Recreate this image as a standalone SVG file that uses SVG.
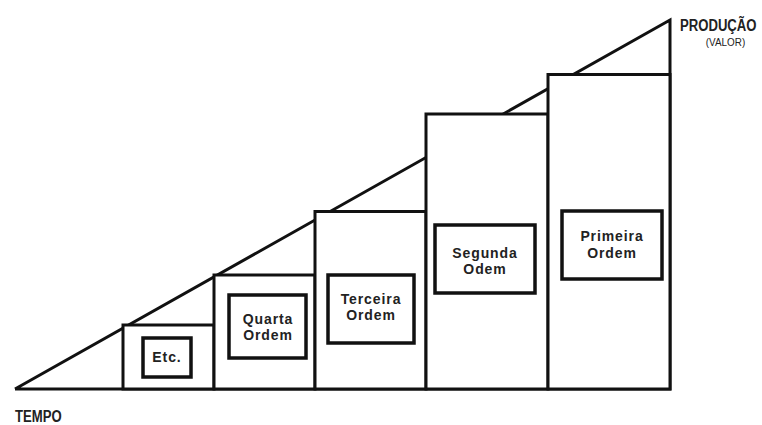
<svg xmlns="http://www.w3.org/2000/svg" width="762" height="425" viewBox="0 0 762 425">
<style>
.ln{fill:none;stroke:#111;stroke-width:3;stroke-linejoin:miter}
.st{fill:#fff;stroke:#111;stroke-width:3}
.bx{fill:#fff;stroke:#111;stroke-width:3.5}
.t{font-family:"Liberation Sans",Arial,sans-serif;font-weight:bold;font-size:14px;fill:#222;text-anchor:middle;letter-spacing:0.9px}
.ax{font-family:"Liberation Sans",Arial,sans-serif;font-weight:bold;fill:#222}
</style>
<rect width="762" height="425" fill="#fff"/>
<g id="connectors">
<polyline class="ln" points="15,389 670,20 670,389 15,389"/>
</g>
<g id="etc">
<rect class="st" x="123" y="325" width="91" height="64"/>
<rect class="bx" x="143" y="338" width="48" height="39"/>
<text class="t" x="167" y="362">Etc.</text>
</g>
<g id="quarta">
<rect class="st" x="214" y="275" width="101" height="114"/>
<rect class="bx" x="229" y="295" width="77" height="63"/>
<text class="t" x="268" y="324">Quarta</text>
<text class="t" x="268" y="340">Ordem</text>
</g>
<g id="terceira">
<rect class="st" x="315" y="211.5" width="111" height="177.5"/>
<rect class="bx" x="328" y="275" width="86" height="68"/>
<text class="t" x="371" y="304">Terceira</text>
<text class="t" x="371" y="320">Ordem</text>
</g>
<g id="segunda">
<rect class="st" x="426" y="114" width="122" height="275"/>
<rect class="bx" x="435" y="225" width="100" height="68"/>
<text class="t" x="485" y="258">Segunda</text>
<text class="t" x="485" y="274">Odem</text>
</g>
<g id="primeira">
<rect class="st" x="548" y="74.5" width="122" height="314.5"/>
<rect class="bx" x="562" y="211" width="100" height="68"/>
<text class="t" x="612" y="241">Primeira</text>
<text class="t" x="612" y="258">Ordem</text>
</g>
<g id="producao">
<text class="ax" transform="translate(680,31) scale(0.82,1)" x="0" y="0" font-size="16">PRODUÇÃO</text>
<text transform="translate(725.5,46) scale(0.9,1)" x="0" y="0" font-family="Liberation Sans,Arial,sans-serif" font-size="11" fill="#222" text-anchor="middle">(VALOR)</text>
</g>
<g id="tempo">
<text class="ax" transform="translate(15,422) scale(0.82,1)" x="0" y="0" font-size="16">TEMPO</text>
</g>
</svg>
